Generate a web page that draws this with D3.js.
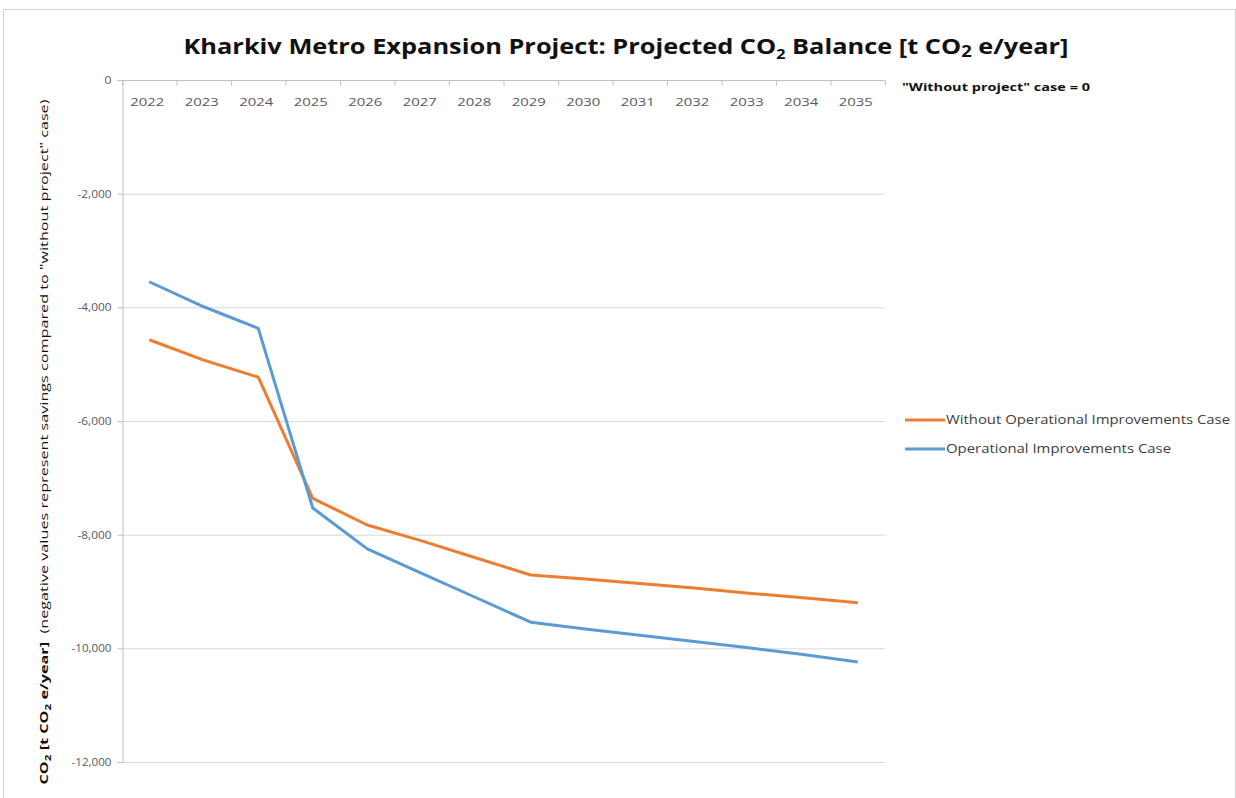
<!DOCTYPE html>
<html lang="en">
<head>
  <meta charset="UTF-8">
  <script src="https://d3js.org/d3.v7.min.js"></script>
  <style>
    body { margin: 0; background: #fff; }
    svg { display: block; }
    .grid line { stroke: #d9d9d9; stroke-width: 1px; }
    .axis text { fill: #595959; font: 11px "Open Sans", sans-serif; }
    .axis path, .axis line { stroke: #bfbfbf; }
    .series { fill: none; stroke-width: 3px; stroke-linejoin: round; }
  </style>
</head>
<body>
  <div id="chart"></div>
  <script>
    // data
    const years = ['2022', '2023', '2024', '2025', '2026', '2027', '2028',
      '2029', '2030', '2031', '2032', '2033', '2034', '2035'];
    const withoutOps = [-4570, -4930, -5230, -7360, -7830, -8110, -8410,
      -8710, -8780, -8860, -8940, -9030, -9110, -9200];
    const withOps = [-3550, -3990, -4370, -7530, -8250, -8680, -9110,
      -9540, -9660, -9770, -9880, -9990, -10110, -10240];
    const yTicks = [0, -2000, -4000, -6000, -8000, -10000, -12000];

    const series = [
      { name: 'Without Operational Improvements Case', values: withoutOps, color: '#ED7D31', len: 284 },
      { name: 'Operational Improvements Case', values: withOps, color: '#5B9BD5', len: 225 }
    ];

    const W = 1236, H = 798;
    const plot = { left: 122, right: 885, top: 80, bottom: 762 };

    const svg = d3.select('#chart').append('svg').attr('width', W).attr('height', H);

    // chart frame
    svg.append('rect')
      .attr('x', 3.5).attr('y', 9.5).attr('width', W - 4).attr('height', H)
      .attr('fill', 'none').attr('stroke', '#d0d0d0');

    const x = d3.scaleBand().domain(years).range([plot.left, plot.right]);
    const y = d3.scaleLinear().domain([-12000, 0]).range([plot.bottom, plot.top]);

    // horizontal gridlines
    svg.append('g').attr('class', 'grid')
      .selectAll('line')
      .data(yTicks.filter(d => d !== 0))
      .enter().append('line')
      .attr('x1', plot.left).attr('x2', plot.right)
      .attr('y1', d => y(d) + 0.5).attr('y2', d => y(d) + 0.5);

    // y axis
    const yAxis = svg.append('g').attr('class', 'axis')
      .attr('transform', `translate(${plot.left + 0.5},0)`)
      .call(d3.axisLeft(y).tickValues(yTicks).tickSize(5).tickPadding(6)
        .tickFormat(d => d3.format(',')(d).replace('\u2212', '-')));
    yAxis.selectAll('text')
      .attr('textLength', d => d === 0 ? 7 : (d <= -10000 ? 40 : 34))
      .attr('lengthAdjust', 'spacingAndGlyphs');

    // category axis sits on the zero line, labels below it
    const xAxis = svg.append('g').attr('class', 'axis')
      .attr('transform', `translate(0,${y(0) + 0.5})`);
    xAxis.append('line')
      .attr('x1', plot.left).attr('x2', plot.right);
    xAxis.selectAll('line.tick')
      .data(d3.range(years.length + 1))
      .enter().append('line').attr('class', 'tick')
      .attr('x1', i => plot.left + i * x.step() + 0.5)
      .attr('x2', i => plot.left + i * x.step() + 0.5)
      .attr('y1', 0).attr('y2', 5);
    xAxis.selectAll('text')
      .data(years)
      .enter().append('text')
      .attr('x', d => x(d) + x.bandwidth() / 2 - 2)
      .attr('y', 25)
      .attr('text-anchor', 'middle')
      .attr('textLength', 34)
      .attr('lengthAdjust', 'spacingAndGlyphs')
      .text(d => d);

    // lines
    const line = d3.line()
      .x((d, i) => x(years[i]) + x.bandwidth() / 2)
      .y(d => y(d));
    svg.selectAll('path.series')
      .data(series)
      .enter().append('path')
      .attr('class', 'series')
      .attr('stroke', d => d.color)
      .attr('d', d => line(d.values));

    // legend
    const legend = svg.append('g').attr('transform', 'translate(905,420)');
    series.forEach((s, i) => {
      const g = legend.append('g').attr('transform', `translate(0,${i * 29})`);
      g.append('line').attr('x1', 0).attr('x2', 40)
        .attr('stroke', s.color).attr('stroke-width', 3);
      g.append('text').attr('x', 41).attr('y', 4)
        .attr('fill', '#404040')
        .attr('textLength', s.len)
        .attr('lengthAdjust', 'spacingAndGlyphs')
        .style('font', '12px "Open Sans", sans-serif')
        .text(s.name);
    });

    // note
    svg.append('text')
      .attr('x', 902).attr('y', 91)
      .attr('fill', '#111')
      .attr('textLength', 188)
      .attr('lengthAdjust', 'spacingAndGlyphs')
      .style('font', 'bold 11px "Open Sans", sans-serif')
      .text('"Without project" case = 0');

    // title
    const title = svg.append('text')
      .attr('x', 626).attr('y', 54)
      .attr('text-anchor', 'middle')
      .attr('fill', '#111')
      .attr('textLength', 885)
      .attr('lengthAdjust', 'spacingAndGlyphs')
      .style('font', 'bold 22px "Open Sans", sans-serif');
    title.append('tspan').text('Kharkiv Metro Expansion Project: Projected CO');
    title.append('tspan').attr('dy', 5).style('font-size', '14px').text('2');
    title.append('tspan').attr('dy', -5).text(' Balance [t CO');
    title.append('tspan').attr('dy', 3).style('font-size', '16px').text('2');
    title.append('tspan').attr('dy', -3).text(' e/year]');

    // y axis title
    const yTitle = svg.append('text')
      .attr('transform', 'translate(48,442) rotate(-90)')
      .attr('text-anchor', 'middle')
      .attr('fill', '#111')
      .attr('textLength', 685)
      .attr('lengthAdjust', 'spacingAndGlyphs')
      .style('font', '11px "Open Sans", sans-serif');
    yTitle.append('tspan').style('font-weight', 'bold').text('CO');
    yTitle.append('tspan').style('font-weight', 'bold').style('font-size', '8px').attr('dy', 3).text('2');
    yTitle.append('tspan').style('font-weight', 'bold').attr('dy', -3).text(' [t CO');
    yTitle.append('tspan').style('font-weight', 'bold').style('font-size', '8px').attr('dy', 3).text('2');
    yTitle.append('tspan').style('font-weight', 'bold').attr('dy', -3).text(' e/year]');
    yTitle.append('tspan').text('\u00a0\u00a0(negative values represent savings compared to "without project" case)');
  </script>
</body>
</html>
